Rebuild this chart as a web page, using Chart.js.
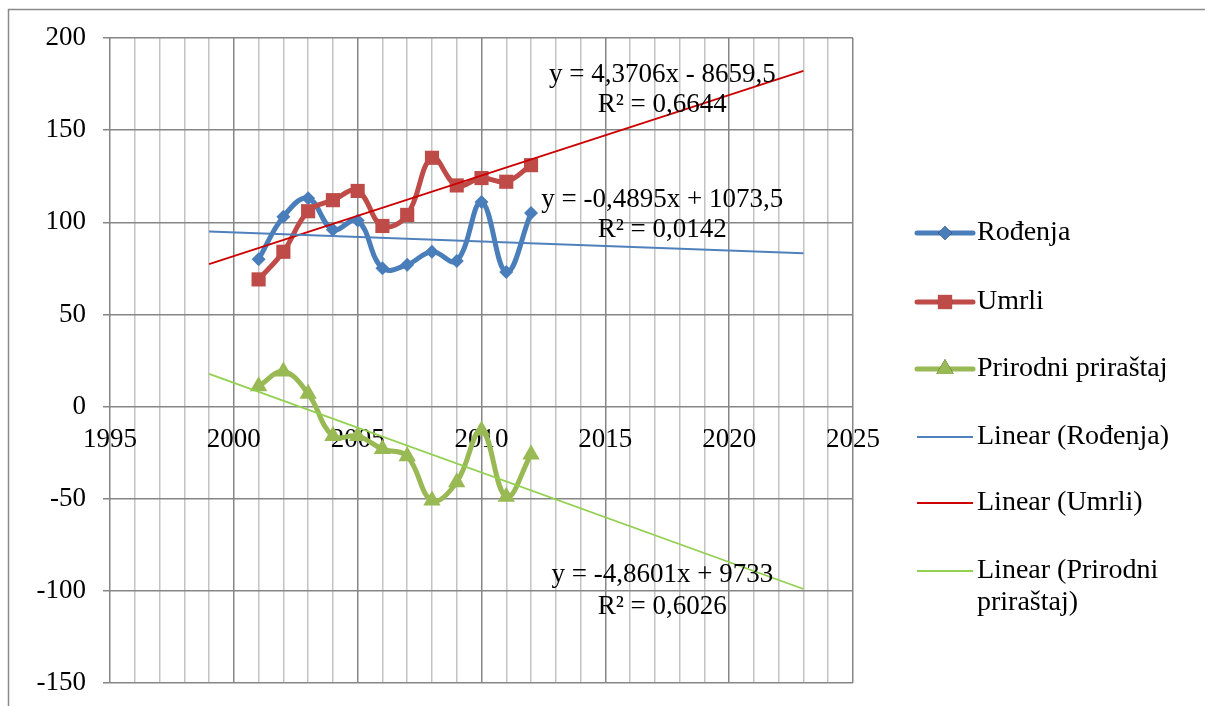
<!DOCTYPE html>
<html>
<head>
<meta charset="utf-8">
<script src="https://cdn.jsdelivr.net/npm/chart.js@4.4.0/dist/chart.umd.min.js"></script>
<style>
  html, body { margin: 0; padding: 0; background: #fff; }
  #wrap { width: 1205px; height: 706px; position: relative; }
</style>
</head>
<body>
<div id="wrap"><canvas id="chart" width="1205" height="706"></canvas></div>
<script>
// data
const years = [2001, 2002, 2003, 2004, 2005, 2006, 2007, 2008, 2009, 2010, 2011, 2012];
const births = [80, 103, 113, 96, 101, 75, 77, 84, 79, 111, 73, 105];
const deaths = [69, 84, 106, 112, 117, 98, 104, 135, 120, 124, 122, 131];
const natural = [11, 19, 7, -16, -16, -23, -27, -51, -41, -13, -49, -26];

// trend lines (start / end, as drawn)
const trendYears = [1999, 2023];
const birthsTrend = [95.0, 83.2];
const deathsTrend = [77.3, 182.2];
const naturalTrend = [17.7, -99.0];

const xTickLabels = [1995, 2000, 2005, 2010, 2015, 2020, 2025];
const yTicks = [-150, -100, -50, 0, 50, 100, 150, 200];

const equations = [
  ["y = 4,3706x - 8659,5", "R² = 0,6644"],
  ["y = -0,4895x + 1073,5", "R² = 0,0142"],
  ["y = -4,8601x + 9733", "R² = 0,6026"]
];

const FAMILY = "'Liberation Serif', 'Times New Roman', serif";
const FONT = "27px " + FAMILY;
const LEGEND_FONT = "28px " + FAMILY;
const MAJOR = "#868686";
const MINOR = "#c3c3c3";

function pts(xs, ys) {
  return xs.map((x, i) => ({ x: x, y: ys[i] }));
}

// equation labels, anchored in data units
const eqPos = [
  { x: 2017.3, y: [180, 163.7] },
  { x: 2017.3, y: [112.2, 95.9] },
  { x: 2017.3, y: [-91.4, -108.8] }
];

const eqPlugin = {
  id: 'eqLabels',
  afterDatasetsDraw(chart) {
    const ctx = chart.ctx;
    const xs = chart.scales.x, ys = chart.scales.y;
    ctx.save();
    ctx.font = FONT;
    ctx.fillStyle = "#000";
    ctx.textAlign = "center";
    ctx.textBaseline = "middle";
    equations.forEach((lines, i) => {
      const px = xs.getPixelForValue(eqPos[i].x);
      lines.forEach((t, j) => {
        ctx.fillText(t, px, ys.getPixelForValue(eqPos[i].y[j]));
      });
    });
    ctx.restore();
  }
};

// Excel-style legend on the right plus outer frame
const legendPlugin = {
  id: 'sideLegend',
  afterDraw(chart) {
    const ctx = chart.ctx;
    ctx.save();
    // frame
    ctx.strokeStyle = "#8a8a8a";
    ctx.lineWidth = 1.5;
    ctx.beginPath();
    ctx.moveTo(8.5, 706);
    ctx.lineTo(8.5, 9.5);
    ctx.lineTo(1205, 9.5);
    ctx.stroke();

    const rows = [233, 302, 369, 437, 503, 571];
    const x0 = 917, x1 = 973, tx = 977;
    ctx.font = LEGEND_FONT;
    ctx.textBaseline = "middle";
    ctx.textAlign = "left";
    chart.data.datasets.forEach((ds, r) => {
      const y = rows[r];
      ctx.strokeStyle = ds.borderColor;
      ctx.lineWidth = ds.borderWidth;
      ctx.lineCap = ds.pointStyle ? "round" : "butt";
      ctx.beginPath();
      ctx.moveTo(x0, y);
      ctx.lineTo(x1, y);
      ctx.stroke();
      if (ds.pointStyle) {
        Chart.helpers.drawPoint(ctx, {
          pointStyle: ds.pointStyle,
          radius: ds.pointRadius,
          borderWidth: 0,
          rotation: 0
        }, (x0 + x1) / 2, y);
        ctx.fillStyle = ds.backgroundColor;
        ctx.fill();
      }
      ctx.fillStyle = "#000";
      const parts = ds.legendLines || [ds.label];
      parts.forEach((t, k) => ctx.fillText(t, tx, y + k * 32));
    });
    ctx.restore();
  }
};

const seriesBase = {
  borderWidth: 5,
  tension: 0.4,
  fill: false
};

const chart = new Chart(document.getElementById('chart'), {
  type: 'line',
  data: {
    datasets: [
      Object.assign({}, seriesBase, {
        label: 'Rođenja',
        data: pts(years, births),
        borderColor: '#4a7ebb',
        backgroundColor: '#4a7ebb',
        pointStyle: 'rectRot',
        pointRadius: 7,
        pointBorderWidth: 0,
        order: 3
      }),
      Object.assign({}, seriesBase, {
        label: 'Umrli',
        data: pts(years, deaths),
        borderColor: '#be4b48',
        backgroundColor: '#be4b48',
        pointStyle: 'rect',
        pointRadius: 10,
        pointBorderWidth: 0,
        order: 2
      }),
      Object.assign({}, seriesBase, {
        label: 'Prirodni priraštaj',
        data: pts(years, natural),
        borderColor: '#98b954',
        backgroundColor: '#98b954',
        pointStyle: 'triangle',
        pointRadius: 10,
        pointBorderWidth: 0,
        order: 1
      }),
      {
        label: 'Linear (Rođenja)',
        data: pts(trendYears, birthsTrend),
        borderColor: '#4f81bd',
        borderWidth: 1.8,
        pointRadius: 0,
        pointStyle: false,
        order: 0
      },
      {
        label: 'Linear (Umrli)',
        data: pts(trendYears, deathsTrend),
        borderColor: '#cc0000',
        borderWidth: 1.8,
        pointRadius: 0,
        pointStyle: false,
        order: 0
      },
      {
        label: 'Linear (Prirodni priraštaj)',
        legendLines: ['Linear (Prirodni', 'priraštaj)'],
        data: pts(trendYears, naturalTrend),
        borderColor: '#92d050',
        borderWidth: 1.8,
        pointRadius: 0,
        pointStyle: false,
        order: 0
      }
    ]
  },
  options: {
    responsive: false,
    animation: false,
    layout: { padding: { left: 0, top: 38, right: 352, bottom: 23 } },
    plugins: {
      legend: { display: false },
      tooltip: { enabled: false }
    },
    scales: {
      x: {
        type: 'linear',
        position: { y: 0 },
        min: 1995,
        max: 2025,
        border: { display: false },
        grid: {
          drawTicks: false,
          lineWidth: 1.5,
          color: (c) => (c.tick && Math.round(c.tick.value) % 5 === 0) ? MAJOR : MINOR
        },
        ticks: {
          stepSize: 1,
          autoSkip: false,
          maxRotation: 0,
          padding: 17,
          color: '#000',
          font: { family: FAMILY, size: 27 },
          callback: (v) => xTickLabels.includes(Math.round(v)) ? String(Math.round(v)) : ''
        }
      },
      y: {
        type: 'linear',
        min: yTicks[0],
        max: yTicks[yTicks.length - 1],
        afterFit: (s) => { s.width = 110; s.paddingTop = 0; s.paddingBottom = 0; },
        border: { display: false },
        grid: { color: MAJOR, lineWidth: 1.5, tickLength: 7 },
        ticks: {
          stepSize: 50,
          padding: 17,
          color: '#000',
          font: { family: FAMILY, size: 27 }
        }
      }
    }
  },
  plugins: [eqPlugin, legendPlugin]
});
</script>
</body>
</html>
